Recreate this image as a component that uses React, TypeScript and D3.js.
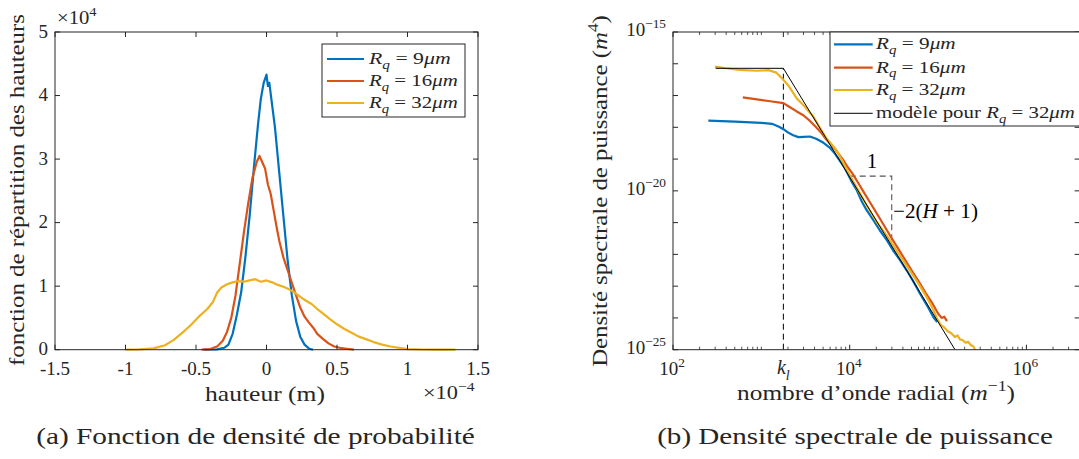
import React, { useLayoutEffect, useRef, useState } from 'react';
import * as d3 from 'd3';

const FONT = 'Liberation Serif';
const AX = '#262626';
const C_BLUE = '#0072BD';
const C_ORANGE = '#D95319';
const C_YELLOW = '#EDB120';

// ---------- Panel (a) data: hauteur (x1e-4 m), densité (x1e4) ----------
const pdfXTicks = [-1.5, -1, -0.5, 0, 0.5, 1, 1.5];
const pdfXTickLabels = ['-1.5', '-1', '-0.5', '0', '0.5', '1', '1.5'];
const pdfYTicks = [0, 1, 2, 3, 4, 5];

const pdf9X = [-0.44, -0.35, -0.3, -0.27, -0.24, -0.21, -0.18, -0.15, -0.12, -0.09, -0.06, -0.04, -0.02, 0.0, 0.01, 0.02, 0.04, 0.06, 0.09, 0.12, 0.15, 0.18, 0.21, 0.24, 0.27, 0.3, 0.33];
const pdf9Y = [0, 0.005, 0.03, 0.08, 0.25, 0.55, 0.9, 1.45, 2.1, 2.85, 3.55, 3.95, 4.2, 4.33, 4.15, 4.2, 3.85, 3.5, 2.8, 2.1, 1.4, 0.85, 0.45, 0.2, 0.08, 0.02, 0];

const pdf16X = [-0.46, -0.4, -0.35, -0.31, -0.28, -0.25, -0.22, -0.19, -0.16, -0.13, -0.1, -0.07, -0.05, -0.03, -0.01, 0.01, 0.03, 0.05, 0.07, 0.09, 0.12, 0.15, 0.18, 0.21, 0.24, 0.27, 0.3, 0.33, 0.36, 0.4, 0.44, 0.48, 0.52, 0.57, 0.62];
const pdf16Y = [0, 0.01, 0.05, 0.14, 0.28, 0.5, 0.85, 1.35, 1.85, 2.3, 2.7, 2.95, 3.05, 2.95, 2.85, 2.6, 2.45, 2.2, 1.95, 1.72, 1.45, 1.25, 1.05, 0.85, 0.66, 0.52, 0.43, 0.35, 0.25, 0.17, 0.1, 0.05, 0.03, 0.015, 0];

const pdf32X = [-1.0, -0.9, -0.8, -0.72, -0.66, -0.6, -0.54, -0.48, -0.42, -0.38, -0.35, -0.32, -0.28, -0.24, -0.2, -0.16, -0.12, -0.08, -0.04, 0.0, 0.04, 0.08, 0.12, 0.16, 0.2, 0.24, 0.28, 0.32, 0.36, 0.4, 0.45, 0.5, 0.55, 0.6, 0.65, 0.7, 0.76, 0.82, 0.88, 0.94, 1.0, 1.1, 1.2, 1.34];
const pdf32Y = [0, 0.005, 0.02, 0.07, 0.15, 0.26, 0.38, 0.52, 0.64, 0.75, 0.9, 0.98, 1.03, 1.06, 1.08, 1.07, 1.09, 1.11, 1.07, 1.09, 1.06, 1.02, 0.99, 0.95, 0.9, 0.83, 0.77, 0.72, 0.64, 0.57, 0.48, 0.4, 0.33, 0.27, 0.21, 0.17, 0.12, 0.08, 0.05, 0.03, 0.01, 0.003, 0.001, 0];

// ---------- Panel (b) data: log10 k (m^-1), log10 PSD (m^4) ----------
const psd9LogK = [2.4, 2.7, 3.0, 3.12, 3.2, 3.25, 3.3, 3.36, 3.42, 3.48, 3.55, 3.62, 3.7, 3.77, 3.83, 3.88, 3.93, 3.97, 4.02, 4.08, 4.14, 4.19, 4.27, 4.34, 4.42, 4.49, 4.57, 4.645, 4.72, 4.795, 4.87, 4.946, 4.99];
const psd9LogP = [-17.79, -17.82, -17.86, -17.89, -17.98, -18.06, -18.16, -18.25, -18.31, -18.3, -18.29, -18.36, -18.48, -18.63, -18.82, -19.02, -19.22, -19.42, -19.7, -19.98, -20.35, -20.6, -20.93, -21.24, -21.55, -21.87, -22.18, -22.5, -22.85, -23.23, -23.58, -23.97, -24.13];

const psd16LogK = [2.79, 2.95, 3.1, 3.25, 3.32, 3.4, 3.475, 3.55, 3.62, 3.68, 3.74, 3.8, 3.86, 3.92, 3.97, 4.03, 4.09, 4.15, 4.22, 4.3, 4.38, 4.46, 4.54, 4.62, 4.7, 4.78, 4.86, 4.94, 5.0, 5.04, 5.07, 5.1];
const psd16LogP = [-17.06, -17.12, -17.18, -17.24, -17.36, -17.5, -17.62, -17.8, -18.0, -18.18, -18.4, -18.58, -18.78, -19.0, -19.22, -19.45, -19.72, -20.0, -20.32, -20.68, -21.05, -21.42, -21.78, -22.14, -22.5, -22.85, -23.22, -23.56, -23.86, -24.0, -23.96, -24.1];

const psd32LogK = [2.475, 2.6, 2.75, 2.95, 3.08, 3.17, 3.22, 3.27, 3.31, 3.34, 3.4, 3.475, 3.53, 3.59, 3.66, 3.74, 3.8, 3.85, 3.92, 4.0, 4.08, 4.19, 4.3, 4.455, 4.57, 4.68, 4.78, 4.87, 4.93, 4.985, 5.03, 5.07, 5.11, 5.15, 5.19, 5.22, 5.25, 5.28, 5.31, 5.34, 5.37, 5.4, 5.42];
const psd32LogP = [-16.09, -16.14, -16.19, -16.22, -16.2, -16.28, -16.42, -16.57, -16.7, -16.83, -17.09, -17.3, -17.48, -17.67, -18.0, -18.36, -18.55, -18.72, -19.08, -19.5, -19.9, -20.45, -20.95, -21.55, -22.05, -22.5, -22.93, -23.34, -23.65, -24.0, -24.22, -24.3, -24.42, -24.48, -24.6, -24.55, -24.68, -24.7, -24.78, -24.75, -24.85, -24.9, -25.0];

const modelK = [304, 1775, 1.556e5];
const modelP = [7.2e-17, 7.2e-17, 1e-25];
const kl = 1775;
const slopeTriK = [1e4, 2.99e4];
const slopeTriP = [2.9e-20, 2.8e-22];

const psdXMajor = [1e2, 1e4, 1e6];
const psdXMajorLabels = ['2', '4', '6'];
const psdYDecades = [-15, -16, -17, -18, -19, -20, -21, -22, -23, -24, -25];
const psdYLabeled = [-15, -20, -25];

// ---------- geometry ----------
const W = 1079, H = 459;
const aL = 55, aR = 478, aT = 32, aB = 349.7;
const bL = 673, bR = 1079.6, bT = 32, bB = 349.7;

type Seg = [string, string?];
function segs(list: Seg[], size: number) {
  let off = 0;
  return list.map(([t, f = ''], i) => {
    const it = f.includes('i');
    const small = f.includes('b') || f.includes('p');
    const target = f.includes('b') ? 0.28 * size : f.includes('p') ? -0.42 * size : 0;
    const dy = target - off;
    off = target;
    return (
      <tspan key={i} dy={dy} fontStyle={it ? 'italic' : 'normal'} fontSize={small ? 0.7 * size : size}>
        {t}
      </tspan>
    );
  });
}

function Fit(props: { x: number; y: number; w?: number; anchor?: string; rot?: number; size: number; children: any; fill?: string }) {
  const { x, y, w, anchor = 'start', rot = 0, size, children, fill = AX } = props;
  const ref = useRef<SVGTextElement>(null);
  const [sx, setSx] = useState(1);
  useLayoutEffect(() => {
    if (w && ref.current) {
      const bw = ref.current.getBBox().width;
      if (bw > 0) setSx(w / bw);
    }
  }, [w]);
  return (
    <g transform={`translate(${x},${y}) rotate(${rot}) scale(${sx},1)`}>
      <text ref={ref} x={0} y={0} textAnchor={anchor as any} fontSize={size} fontFamily={FONT} fill={fill} style={{ whiteSpace: 'pre' }}>
        {children}
      </text>
    </g>
  );
}

function PanelA() {
  const x = d3.scaleLinear().domain([-1.5, 1.5]).range([aL, aR]);
  const y = d3.scaleLinear().domain([0, 5]).range([aB, aT]);
  const line = d3.line<[number, number]>().x((d) => x(d[0])).y((d) => y(d[1]));
  const series = [
    { xs: pdf9X, ys: pdf9Y, c: C_BLUE, label: '9' },
    { xs: pdf16X, ys: pdf16Y, c: C_ORANGE, label: '16' },
    { xs: pdf32X, ys: pdf32Y, c: C_YELLOW, label: '32' },
  ];
  const tl = 5;
  const legRows = [59, 81, 103];
  const legW = [83, 90, 90];
  return (
    <g>
      {series.map((s, i) => (
        <path key={i} d={line(s.xs.map((v, j) => [v, s.ys[j]] as [number, number])) || ''} fill="none" stroke={s.c} strokeWidth={2.2} strokeLinejoin="round" />
      ))}
      <rect x={aL} y={aT} width={aR - aL} height={aB - aT} fill="none" stroke={AX} strokeWidth={1} />
      {pdfXTicks.map((t, i) => (
        <g key={'xt' + i}>
          <line x1={x(t)} x2={x(t)} y1={aB} y2={aB - tl} stroke={AX} />
          <line x1={x(t)} x2={x(t)} y1={aT} y2={aT + tl} stroke={AX} />
          <text x={x(t)} y={374.5} textAnchor="middle" fontSize={19} fontFamily={FONT} fill={AX}>{pdfXTickLabels[i]}</text>
        </g>
      ))}
      {pdfYTicks.map((t, i) => (
        <g key={'yt' + i}>
          <line x1={aL} x2={aL + tl} y1={y(t)} y2={y(t)} stroke={AX} />
          <line x1={aR} x2={aR - tl} y1={y(t)} y2={y(t)} stroke={AX} />
          <text x={48} y={y(t) + 5.5} textAnchor="end" fontSize={19} fontFamily={FONT} fill={AX}>{String(t)}</text>
        </g>
      ))}
      <Fit x={57} y={24} w={40} size={19}>{segs([['×10'], ['4', 'p']], 19)}</Fit>
      <Fit x={423} y={399} w={52} size={19}>{segs([['×10'], ['−4', 'p']], 19)}</Fit>
      <Fit x={265} y={401} w={120} anchor="middle" size={22}>hauteur (m)</Fit>
      <Fit x={24} y={190} w={352} anchor="middle" rot={-90} size={22}>fonction de répartition des hauteurs</Fit>
      <Fit x={255.5} y={444} w={439} anchor="middle" size={24}>(a) Fonction de densité de probabilité</Fit>
      {/* legend */}
      <rect x={322} y={44} width={143} height={73} fill="#fff" stroke={AX} strokeWidth={1} />
      {series.map((s, i) => (
        <g key={'lg' + i}>
          <line x1={327} x2={364} y1={legRows[i]} y2={legRows[i]} stroke={s.c} strokeWidth={2.2} />
          <Fit x={369} y={legRows[i] + 5} w={legW[i]} size={17}>
            {segs([['R', 'i'], ['q', 'ib'], [' = ' + s.label], ['μm', 'i']], 17)}
          </Fit>
        </g>
      ))}
    </g>
  );
}

function PanelB() {
  const x = d3.scaleLog().domain([1e2, Math.pow(10, 6.602)]).range([bL, bR]);
  const y = d3.scaleLog().domain([1e-25, 1e-15]).range([bB, bT]);
  const lineLog = d3.line<[number, number]>().x((d) => x(Math.pow(10, d[0]))).y((d) => y(Math.pow(10, d[1])));
  const line = d3.line<[number, number]>().x((d) => x(d[0])).y((d) => y(d[1]));
  const series = [
    { xs: psd9LogK, ys: psd9LogP, c: C_BLUE, label: '9' },
    { xs: psd16LogK, ys: psd16LogP, c: C_ORANGE, label: '16' },
    { xs: psd32LogK, ys: psd32LogP, c: C_YELLOW, label: '32' },
  ];
  const minorTicks: number[] = [];
  for (let e = 2; e <= 6; e++) for (let m = 1; m <= 9; m++) {
    const v = m * Math.pow(10, e);
    if (v <= Math.pow(10, 6.602) && !(m === 1 && e % 2 === 0)) minorTicks.push(v);
  }
  const tl = 5;
  const tri: [number, number][] = [
    [slopeTriK[0], slopeTriP[0]],
    [slopeTriK[1], slopeTriP[0]],
    [slopeTriK[1], slopeTriP[1]],
  ];
  const legRows = [44.3, 67.7, 90, 113.3];
  const legW = [81, 91, 91];
  return (
    <g>
      <defs>
        <clipPath id="clipB">
          <rect x={bL} y={bT} width={bR - bL} height={bB - bT} />
        </clipPath>
      </defs>
      <g clipPath="url(#clipB)">
        <line x1={x(kl)} x2={x(kl)} y1={y(1e-25)} y2={y(modelP[0])} stroke="#000" strokeWidth={1} strokeDasharray="6,4" />
        <path d={line(tri) || ''} fill="none" stroke="#555" strokeWidth={1.1} strokeDasharray="6,4" />
        {series.map((s, i) => (
          <path key={i} d={lineLog(s.xs.map((v, j) => [v, s.ys[j]] as [number, number])) || ''} fill="none" stroke={s.c} strokeWidth={2.2} strokeLinejoin="round" />
        ))}
        <path d={line(modelK.map((v, j) => [v, modelP[j]] as [number, number])) || ''} fill="none" stroke="#000" strokeWidth={1} />
      </g>
      <rect x={bL} y={bT} width={bR - bL} height={bB - bT} fill="none" stroke={AX} strokeWidth={1} />
      {minorTicks.map((t, i) => (
        <g key={'mt' + i}>
          <line x1={x(t)} x2={x(t)} y1={bB} y2={bB - 3} stroke={AX} strokeWidth={0.8} />
          <line x1={x(t)} x2={x(t)} y1={bT} y2={bT + 3} stroke={AX} strokeWidth={0.8} />
        </g>
      ))}
      {psdXMajor.map((t, i) => (
        <g key={'xm' + i}>
          <line x1={x(t)} x2={x(t)} y1={bB} y2={bB - tl} stroke={AX} />
          <line x1={x(t)} x2={x(t)} y1={bT} y2={bT + tl} stroke={AX} />
          <text x={x(t) - 1} y={375} textAnchor="middle" fontSize={19} fontFamily={FONT} fill={AX}>
            {segs([['10'], [psdXMajorLabels[i], 'p']], 19)}
          </text>
        </g>
      ))}
      <line x1={x(kl)} x2={x(kl)} y1={bT} y2={bT + tl} stroke={AX} />
      <text x={x(kl)} y={374} textAnchor="middle" fontSize={20} fontFamily={FONT} fill={AX}>
        {segs([['k', 'i'], ['l', 'ib']], 20)}
      </text>
      {psdYDecades.map((e, i) => (
        <g key={'yd' + i}>
          <line x1={bL} x2={bL + tl} y1={y(Math.pow(10, e))} y2={y(Math.pow(10, e))} stroke={AX} />
          <line x1={bR} x2={bR - tl} y1={y(Math.pow(10, e))} y2={y(Math.pow(10, e))} stroke={AX} />
        </g>
      ))}
      {psdYLabeled.map((e, i) => (
        <text key={'yl' + i} x={666} y={y(Math.pow(10, e)) + 4} textAnchor="end" fontSize={19} fontFamily={FONT} fill={AX}>
          {segs([['10'], ['−' + String(-e), 'p']], 19)}
        </text>
      ))}
      <Fit x={876} y={400} w={278} anchor="middle" size={22}>
        {segs([["nombre d’onde radial ("], ['m', 'i'], ['−1', 'p'], [')']], 22)}
      </Fit>
      <Fit x={607} y={191} w={352} anchor="middle" rot={-90} size={22}>
        {segs([['Densité spectrale de puissance ('], ['m', 'i'], ['4', 'p'], [')']], 22)}
      </Fit>
      <Fit x={855} y={444} w={396} anchor="middle" size={24}>(b) Densité spectrale de puissance</Fit>
      <text x={872} y={168} textAnchor="middle" fontSize={21} fontFamily={FONT} fill="#000">1</text>
      <Fit x={893} y={218} w={85} size={21} fill="#000">
        {segs([['−2('], ['H', 'i'], [' + 1)']], 21)}
      </Fit>
      {/* legend */}
      <rect x={830} y={32} width={260} height={94} fill="#fff" stroke={AX} strokeWidth={1} />
      {series.map((s, i) => (
        <g key={'lg' + i}>
          <line x1={834} x2={872.7} y1={legRows[i]} y2={legRows[i]} stroke={s.c} strokeWidth={2.2} />
          <Fit x={876} y={legRows[i] + 5} w={legW[i]} size={17}>
            {segs([['R', 'i'], ['q', 'ib'], [' = ' + s.label], ['μm', 'i']], 17)}
          </Fit>
        </g>
      ))}
      <line x1={834} x2={872.7} y1={legRows[3]} y2={legRows[3]} stroke="#000" strokeWidth={1} />
      <Fit x={876} y={legRows[3] + 5} w={199} size={17}>
        {segs([['modèle pour '], ['R', 'i'], ['q', 'ib'], [' = 32'], ['μm', 'i']], 17)}
      </Fit>
    </g>
  );
}

export default function App() {
  return (
    <svg width={W} height={H} viewBox={`0 0 ${W} ${H}`} style={{ position: 'absolute', left: 0, top: 0, background: '#fff' }}>
      <rect x={0} y={0} width={W} height={H} fill="#fff" />
      <PanelA />
      <PanelB />
    </svg>
  );
}
